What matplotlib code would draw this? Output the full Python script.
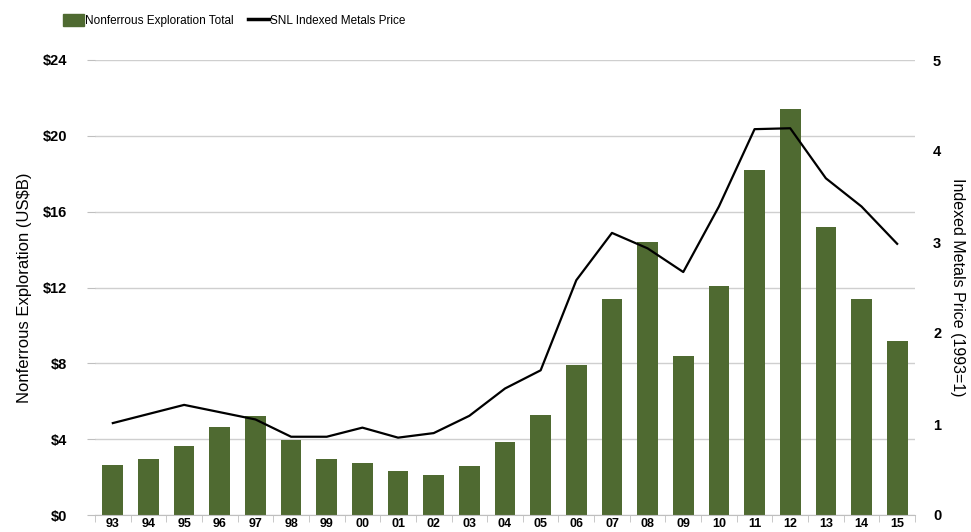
import numpy as np
import matplotlib
matplotlib.use('Agg')
import matplotlib.pyplot as plt
from matplotlib.patches import Patch
from matplotlib.lines import Line2D

plt.rcParams['font.family'] = ['Liberation Sans', 'DejaVu Sans']

YEARS = ['93', '94', '95', '96', '97', '98', '99', '00', '01', '02', '03', '04',
         '05', '06', '07', '08', '09', '10', '11', '12', '13', '14', '15']

# nonferrous exploration total, US$B
EXPLORATION = [2.63, 2.93, 3.63, 4.65, 5.23, 3.95, 2.93, 2.75, 2.33, 2.09, 2.58, 3.85,
               5.30, 7.90, 11.4, 14.4, 8.4, 12.1, 18.2, 21.4, 15.2, 11.4, 9.2]

# SNL indexed metals price (1993=1)
PRICE = [1.01, 1.11, 1.21, 1.13, 1.05, 0.86, 0.86, 0.96, 0.85, 0.90, 1.09, 1.39,
         1.59, 2.58, 3.10, 2.93, 2.67, 3.39, 4.24, 4.25, 3.70, 3.39, 2.98]

LEFT_TICKS = [0, 4, 8, 12, 16, 20, 24]
RIGHT_TICKS = [0, 1, 2, 3, 4, 5]

BAR_COL = '#4f6a31'
GRID_COL = '#cfcfcf'

fig = plt.figure(figsize=(9.71, 5.32), dpi=100)
ax = fig.add_axes([95 / 971, 1 - 515 / 532, 820 / 971, 455 / 532])

x = np.arange(len(YEARS))
ax.bar(x, EXPLORATION, width=0.58, color=BAR_COL, zorder=2)
ax.set_xlim(-0.5, len(YEARS) - 0.5)
ax.set_ylim(0, 24)
ax.set_yticks(LEFT_TICKS)
ax.set_yticklabels(['$' + str(v) for v in LEFT_TICKS], fontsize=10.5, fontweight='bold')
ax.yaxis.grid(True, color=GRID_COL, lw=1, zorder=0)
ax.set_axisbelow(True)

ax.set_xticks(x)
ax.set_xticklabels(YEARS, fontsize=9, fontweight='bold')
ax.set_xticks(np.arange(-0.5, len(YEARS)), minor=True)
ax.tick_params(axis='x', which='major', length=0, pad=2)
ax.tick_params(axis='x', which='minor', length=5, color='#bfbfbf')
ax.tick_params(axis='y', length=6, color='#bfbfbf', pad=14)

for s in ['top', 'right', 'left']:
    ax.spines[s].set_visible(False)
ax.spines['bottom'].set_color('#bfbfbf')

ax.set_ylabel('Nonferrous Exploration (US$B)', fontsize=12, labelpad=8)

ax2 = ax.twinx()
ax2.plot(x, PRICE, color='black', lw=1.6, zorder=3)
ax2.set_ylim(0, 5)
ax2.set_yticks(RIGHT_TICKS)
ax2.set_yticklabels([str(v) for v in RIGHT_TICKS], fontsize=10.5, fontweight='bold')
ax2.tick_params(axis='y', length=0, pad=13)
for s in ['top', 'right', 'left', 'bottom']:
    ax2.spines[s].set_visible(False)
ax2.set_ylabel('Indexed Metals Price (1993=1)', fontsize=11.5, rotation=270, labelpad=17)

handles = [Patch(color=BAR_COL), Line2D([0], [0], color='black', lw=2.5)]
fig.legend(handles, ['Nonferrous Exploration Total', 'SNL Indexed Metals Price'],
           loc='upper left', bbox_to_anchor=(52 / 971, 0.993), ncol=2, frameon=False,
           fontsize=8.5, handlelength=1.8, handleheight=1.1, handletextpad=0.1,
           columnspacing=1.2)

fig.savefig('out.png', dpi=100)
